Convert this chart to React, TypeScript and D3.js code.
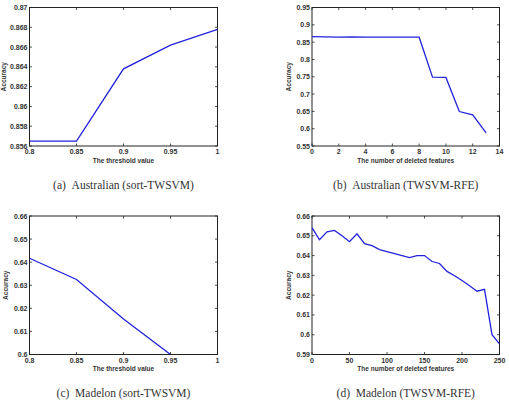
import React from "react";
import * as d3 from "d3";

const aX = [0.8, 0.85, 0.9, 0.95, 1];
const aY = [0.8565, 0.8565, 0.8638, 0.8662, 0.8678];
const aXTicks = [0.8, 0.85, 0.9, 0.95, 1];
const aYTicks = [0.856, 0.858, 0.86, 0.862, 0.864, 0.866, 0.868, 0.87];

const bX = [0, 1, 2, 3, 4, 5, 6, 7, 8, 9, 10, 11, 12, 13];
const bY = [0.8658, 0.8652, 0.8645, 0.865, 0.8642, 0.8642, 0.8642, 0.8642, 0.8642, 0.749, 0.748, 0.6495, 0.64, 0.588];
const bXTicks = [0, 2, 4, 6, 8, 10, 12, 14];
const bYTicks = [0.55, 0.6, 0.65, 0.7, 0.75, 0.8, 0.85, 0.9, 0.95];

const cX = [0.8, 0.85, 0.9, 0.95];
const cY = [0.6417, 0.6325, 0.6154, 0.6];
const cXTicks = [0.8, 0.85, 0.9, 0.95, 1];
const cYTicks = [0.6, 0.61, 0.62, 0.63, 0.64, 0.65, 0.66];

const dX = [0, 10, 20, 30, 40, 50, 60, 70, 80, 90, 100, 110, 120, 130, 140, 150, 160, 170, 180, 190, 200, 210, 220, 230, 240, 250];
const dY = [0.6541, 0.648, 0.652, 0.6527, 0.650, 0.647, 0.651, 0.646, 0.645, 0.643, 0.642, 0.641, 0.640, 0.639, 0.640, 0.640, 0.637, 0.636, 0.632, 0.6298, 0.6274, 0.6247, 0.622, 0.6229, 0.600, 0.5954];
const dXTicks = [0, 50, 100, 150, 200, 250];
const dYTicks = [0.59, 0.6, 0.61, 0.62, 0.63, 0.64, 0.65, 0.66];

type PanelProps = {
  x0: number; x1: number; y0: number; y1: number;
  xs: number[]; ys: number[];
  xDomain: [number, number]; yDomain: [number, number];
  xTicks: number[]; yTicks: number[];
  xLabel: string; caption: string;
  yLabelX: number; captionY: number; xLabelY: number;
};

const fmt = (v: number) => String(+v.toFixed(4));

function Panel(p: PanelProps) {
  const xs = d3.scaleLinear().domain(p.xDomain).range([p.x0, p.x1]);
  const ys = d3.scaleLinear().domain(p.yDomain).range([p.y1, p.y0]);
  const pts = p.xs.map((x, i) => [x, p.ys[i]] as [number, number]);
  const line = d3.line<[number, number]>().x((d) => xs(d[0])).y((d) => ys(d[1]));
  const tl = 2.5;
  const font = "Liberation Sans, Arial, sans-serif";
  const cx = (p.x0 + p.x1) / 2;
  const clipId = `clip-${p.x0}-${p.y0}`;
  return (
    <g>
      <defs>
        <clipPath id={clipId}>
          <rect x={p.x0} y={p.y0} width={p.x1 - p.x0} height={p.y1 - p.y0} />
        </clipPath>
      </defs>
      <rect x={p.x0} y={p.y0} width={p.x1 - p.x0} height={p.y1 - p.y0} fill="white" stroke="#222" strokeWidth={1} />
      {p.xTicks.map((t) => (
        <g key={"x" + t}>
          <line x1={xs(t)} x2={xs(t)} y1={p.y1} y2={p.y1 - tl} stroke="#222" strokeWidth={0.8} />
          <line x1={xs(t)} x2={xs(t)} y1={p.y0} y2={p.y0 + tl} stroke="#222" strokeWidth={0.8} />
          <text x={xs(t)} y={p.y1 + 8} fontSize={7} fontWeight="bold" fill="#333" textAnchor="middle" fontFamily={font}>{fmt(t)}</text>
        </g>
      ))}
      {p.yTicks.map((t) => (
        <g key={"y" + t}>
          <line x1={p.x0} x2={p.x0 + tl} y1={ys(t)} y2={ys(t)} stroke="#222" strokeWidth={0.8} />
          <line x1={p.x1} x2={p.x1 - tl} y1={ys(t)} y2={ys(t)} stroke="#222" strokeWidth={0.8} />
          <text x={p.x0 - 2} y={ys(t) + 2.5} fontSize={7} fontWeight="bold" fill="#333" textAnchor="end" fontFamily={font}>{fmt(t)}</text>
        </g>
      ))}
      <path d={line(pts) || ""} fill="none" stroke="#2323dd" strokeWidth={1.3} clipPath={`url(#${clipId})`} />
      <text x={cx} y={p.xLabelY} fontSize={6.5} fontWeight="bold" fill="#333" textAnchor="middle" fontFamily={font}>{p.xLabel}</text>
      <text transform={`translate(${p.yLabelX},${(p.y0 + p.y1) / 2}) rotate(-90)`} fontSize={6.5} fontWeight="bold" fill="#333" textAnchor="middle" fontFamily={font}>Accuracy</text>
      <text x={cx} y={p.captionY} fontSize={11.5} fill="#333" textAnchor="middle" fontFamily="Liberation Serif, Times New Roman, serif" style={{ whiteSpace: "pre" }}>{p.caption}</text>
    </g>
  );
}

export default function App() {
  return (
    <svg width={509} height={407} style={{ position: "absolute", left: 0, top: 0, background: "white" }}>
      <rect width={509} height={407} fill="white" />
      <Panel x0={29.5} x1={217.5} y0={7.5} y1={146} xs={aX} ys={aY} xDomain={[0.8, 1]} yDomain={[0.856, 0.87]}
        xTicks={aXTicks} yTicks={aYTicks} xLabel="The threshold value" caption={"(a)\u00a0\u00a0Australian (sort-TWSVM)"}
        yLabelX={6} xLabelY={163} captionY={189} />
      <Panel x0={312} x1={499.5} y0={7.5} y1={146} xs={bX} ys={bY} xDomain={[0, 14]} yDomain={[0.55, 0.95]}
        xTicks={bXTicks} yTicks={bYTicks} xLabel="The number of deleted features" caption={"(b)\u00a0\u00a0Australian (TWSVM-RFE)"}
        yLabelX={291} xLabelY={163} captionY={189} />
      <Panel x0={29.5} x1={217.5} y0={216} y1={354.5} xs={cX} ys={cY} xDomain={[0.8, 1]} yDomain={[0.6, 0.66]}
        xTicks={cXTicks} yTicks={cYTicks} xLabel="The threshold value" caption={"(c)\u00a0\u00a0Madelon (sort-TWSVM)"}
        yLabelX={8} xLabelY={371} captionY={397} />
      <Panel x0={312} x1={499.5} y0={216} y1={354.5} xs={dX} ys={dY} xDomain={[0, 250]} yDomain={[0.59, 0.66]}
        xTicks={dXTicks} yTicks={dYTicks} xLabel="The number of deleted features" caption={"(d)\u00a0\u00a0Madelon (TWSVM-RFE)"}
        yLabelX={291} xLabelY={371} captionY={397} />
    </svg>
  );
}
